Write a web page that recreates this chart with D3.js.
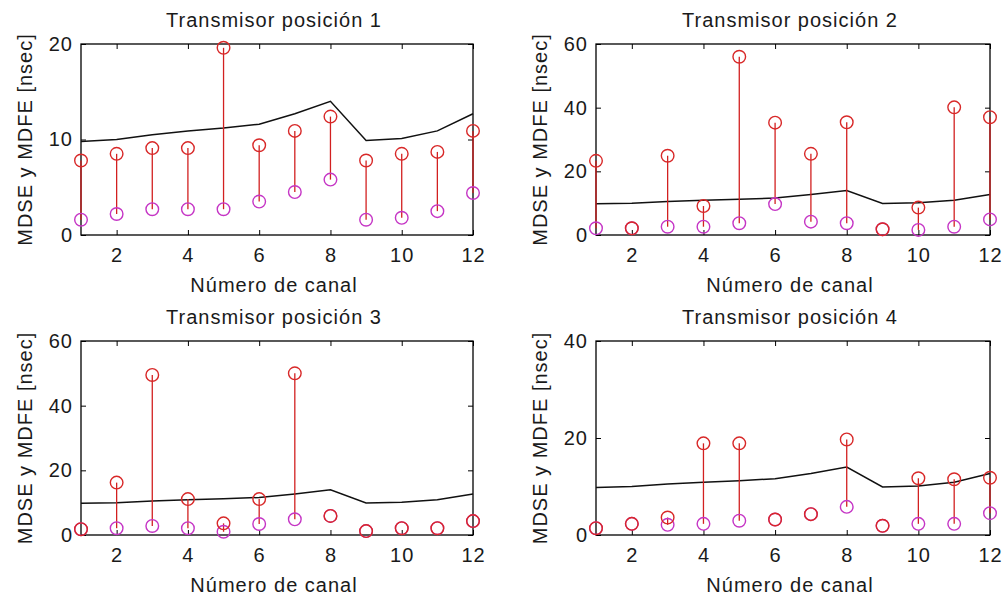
<!DOCTYPE html>
<html>
<head>
<meta charset="utf-8">
<script src="https://cdn.jsdelivr.net/npm/d3@7"></script>
<style>
  html, body { margin: 0; padding: 0; background: #ffffff; }
  svg { display: block; }
  text { font-family: "Liberation Sans", Arial, sans-serif; fill: #1a1a1a; letter-spacing: 1px; }
</style>
</head>
<body>
<svg id="chart" width="1005" height="601"></svg>
<script>
// Channel numbers on the x axis
const channels = [1, 2, 3, 4, 5, 6, 7, 8, 9, 10, 11, 12];
const xTicks = [2, 4, 6, 8, 10, 12];

// Reference threshold curve (black), shared by all four panels
const threshold = [9.8, 10.0, 10.5, 10.9, 11.2, 11.6, 12.7, 14.0, 9.9, 10.1, 10.9, 12.7];

// Red circles (upper values) per transmitter position
const mdsePos1 = [7.8, 8.5, 9.1, 9.1, 19.6, 9.4, 10.9, 12.4, 7.8, 8.5, 8.7, 10.9];
const mdsePos2 = [23.3, 2.1, 24.9, 9.1, 56.0, 35.3, 25.5, 35.4, 1.8, 8.6, 40.1, 37.0];
const mdsePos3 = [1.8, 16.2, 49.5, 11.1, 3.6, 11.1, 50.0, 5.9, 1.2, 2.1, 2.1, 4.3];
const mdsePos4 = [1.4, 2.3, 3.6, 18.9, 18.9, 3.2, 4.3, 19.7, 1.9, 11.7, 11.5, 11.8];

// Magenta circles (lower values) per transmitter position
const mdfePos1 = [1.6, 2.2, 2.7, 2.7, 2.7, 3.5, 4.5, 5.8, 1.6, 1.8, 2.5, 4.4];
const mdfePos2 = [2.1, 2.1, 2.6, 2.6, 3.7, 9.7, 4.2, 3.7, 1.8, 1.6, 2.6, 4.9];
const mdfePos3 = [1.8, 2.1, 2.8, 2.1, 1.0, 3.4, 4.85, 5.9, 1.2, 2.1, 2.1, 4.3];
const mdfePos4 = [1.4, 2.3, 2.1, 2.3, 2.95, 3.2, 4.3, 5.8, 1.9, 2.3, 2.3, 4.5];

// Y-axis ticks and upper limits per panel
const yTicks1 = [0, 10, 20];
const yTicks2 = [0, 20, 40, 60];
const yTicks3 = [0, 20, 40, 60];
const yTicks4 = [0, 20, 40];
const yMax = [20, 60, 60, 40];

const titles = ["Transmisor posición 1", "Transmisor posición 2",
                "Transmisor posición 3", "Transmisor posición 4"];
const xLabel = "Número de canal";
const yLabel = "MDSE y MDFE [nsec]";

const panels = [
  { upper: mdsePos1, lower: mdfePos1, ticks: yTicks1, ymax: yMax[0], title: titles[0] },
  { upper: mdsePos2, lower: mdfePos2, ticks: yTicks2, ymax: yMax[1], title: titles[1] },
  { upper: mdsePos3, lower: mdfePos3, ticks: yTicks3, ymax: yMax[2], title: titles[2] },
  { upper: mdsePos4, lower: mdfePos4, ticks: yTicks4, ymax: yMax[3], title: titles[3] }
];

// Axes box frames (left, right, top, bottom) for the 2x2 grid
const frames = [
  { l: 81,  r: 473, t: 44,  b: 235 },
  { l: 596, r: 990, t: 44,  b: 235 },
  { l: 81,  r: 473, t: 341, b: 535 },
  { l: 596, r: 990, t: 341, b: 535 }
];

const RED = "#d82828";
const MAGENTA = "#c535c5";
const STEM = "#d22020";
const R = 6.3;

const svg = d3.select("#chart");

panels.forEach((p, i) => {
  const f = frames[i];
  const x = d3.scaleLinear().domain([1, 12]).range([f.l, f.r]);
  const y = d3.scaleLinear().domain([0, p.ymax]).range([f.b, f.t]);
  const g = svg.append("g");

  // Tick marks point inward on all four sides
  const styleAxis = sel => {
    sel.select(".domain").remove();
    sel.selectAll(".tick line").attr("stroke", "#000").attr("stroke-width", 1);
    sel.selectAll(".tick text").style("font-size", "20px").attr("fill", "#1a1a1a");
  };

  g.append("g").attr("transform", `translate(0,${f.b})`)
    .call(d3.axisBottom(x).tickValues(xTicks).tickSize(-5).tickPadding(13).tickFormat(d3.format("d")))
    .call(styleAxis);
  g.append("g").attr("transform", `translate(0,${f.t})`)
    .call(d3.axisTop(x).tickValues(xTicks).tickSize(-5).tickFormat(""))
    .call(styleAxis);
  g.append("g").attr("transform", `translate(${f.l},0)`)
    .call(d3.axisLeft(y).tickValues(p.ticks).tickSize(-5).tickPadding(8).tickFormat(d3.format("d")))
    .call(styleAxis);
  g.append("g").attr("transform", `translate(${f.r},0)`)
    .call(d3.axisRight(y).tickValues(p.ticks).tickSize(-5).tickFormat(""))
    .call(styleAxis);

  // Axes box
  g.append("rect")
    .attr("x", f.l).attr("y", f.t)
    .attr("width", f.r - f.l).attr("height", f.b - f.t)
    .attr("fill", "none").attr("stroke", "#000").attr("stroke-width", 1.3);

  // Black threshold curve
  const line = d3.line().x((d, k) => x(channels[k])).y(d => y(d));
  g.append("path").datum(threshold)
    .attr("d", line).attr("fill", "none")
    .attr("stroke", "#111").attr("stroke-width", 1.5);

  // Vertical red segments joining the two values of each channel
  g.selectAll(".stem").data(channels).join("line")
    .attr("x1", d => x(d)).attr("x2", d => x(d))
    .attr("y1", (d, k) => y(p.lower[k])).attr("y2", (d, k) => y(p.upper[k]))
    .attr("stroke", STEM).attr("stroke-width", 1.3);

  // Magenta circles
  g.selectAll(".low").data(channels).join("circle")
    .attr("cx", d => x(d)).attr("cy", (d, k) => y(p.lower[k]))
    .attr("r", R).attr("fill", "none")
    .attr("stroke", MAGENTA).attr("stroke-width", 1.4);

  // Red circles
  g.selectAll(".up").data(channels).join("circle")
    .attr("cx", d => x(d)).attr("cy", (d, k) => y(p.upper[k]))
    .attr("r", R).attr("fill", "none")
    .attr("stroke", RED).attr("stroke-width", 1.4);

  const cx = (f.l + f.r) / 2;
  const cy = (f.t + f.b) / 2;

  // Title
  g.append("text")
    .attr("x", cx - 3).attr("y", f.t - 17)
    .attr("text-anchor", "middle")
    .style("font-size", "20px")
    .text(p.title);

  // X-axis label
  g.append("text")
    .attr("x", cx - 3).attr("y", f.b + 57)
    .attr("text-anchor", "middle")
    .style("font-size", "20px")
    .text(xLabel);

  // Y-axis label
  g.append("text")
    .attr("transform", `translate(${f.l - 56},${cy}) rotate(-90)`)
    .attr("text-anchor", "middle")
    .attr("dy", "0.35em")
    .style("font-size", "20px")
    .text(yLabel);
});
</script>
</body>
</html>
